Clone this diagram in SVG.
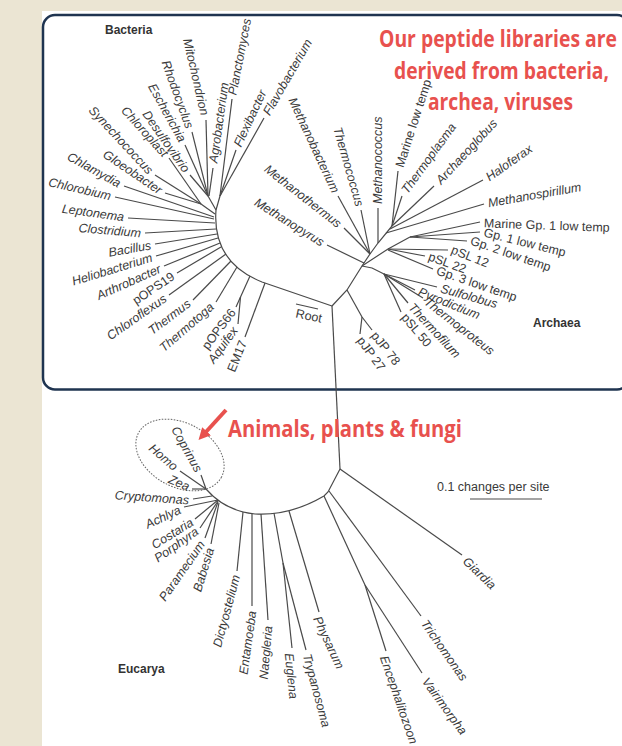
<svg xmlns="http://www.w3.org/2000/svg" width="622" height="746" viewBox="0 0 622 746">
<defs>
<style>
.t{font-family:"Liberation Sans",Arial,sans-serif;font-size:12.5px;fill:#3a3a3a}
.i{font-style:italic}
.e{text-anchor:end}
.b{font-family:"Liberation Sans",Arial,sans-serif;font-size:12px;font-weight:bold;fill:#333}
.r{font-family:"Liberation Sans Narrow","Open Sans",sans-serif;font-size:23px;font-weight:bold;fill:#e8514e}
.ln line,.ln path{stroke:#4a4a4a;stroke-width:1.2;fill:none}
</style>
<marker id="ah" viewBox="0 0 10 10" refX="2" refY="5" markerWidth="3" markerHeight="3" orient="auto">
<path d="M0,0 L10,5 L0,10 Z" fill="#e8514e"/>
</marker>
</defs>
<rect x="0" y="0" width="622" height="746" fill="#ebe5d3"/>
<rect x="42" y="11" width="580" height="735" fill="#fff"/>
<rect id="panel" x="43" y="15" width="586" height="374.5" rx="12" fill="none" stroke="#1f3450" stroke-width="2.5"/>

<g id="connectors" class="ln">
<!-- bacteria -->
<path d="M216,210 Q212,262 262,282 L332,306"/>
<line x1="206" y1="120" x2="208" y2="196"/><line x1="192" y1="132" x2="208" y2="196"/><line x1="185" y1="145" x2="208" y2="196"/><line x1="190" y1="175" x2="208" y2="196"/><line x1="213" y1="168" x2="209" y2="196"/><line x1="208" y1="196" x2="216" y2="210"/>
<line x1="232" y1="99" x2="220" y2="196"/><line x1="236" y1="150" x2="220" y2="196"/><line x1="264" y1="118" x2="220" y2="196"/><line x1="220" y1="196" x2="216" y2="210"/>
<line x1="169" y1="158" x2="201" y2="204"/><line x1="155" y1="175" x2="201" y2="204"/><line x1="165" y1="193" x2="201" y2="204"/><line x1="201" y1="204" x2="215" y2="214"/>
<line x1="124" y1="186" x2="214" y2="217"/><line x1="115" y1="197" x2="214" y2="219"/><line x1="128" y1="218" x2="215" y2="223"/><line x1="145" y1="233" x2="216" y2="229"/><line x1="155" y1="244" x2="217" y2="234"/><line x1="156" y1="256" x2="218" y2="238"/><line x1="164" y1="266" x2="220" y2="243"/><line x1="177" y1="273" x2="221" y2="247"/><line x1="169" y1="295" x2="226" y2="254"/><line x1="193" y1="300" x2="231" y2="261"/><line x1="216" y1="302" x2="237" y2="267"/><line x1="236" y1="307" x2="250" y2="276"/><line x1="238" y1="324" x2="240.5" y2="297"/><line x1="245" y1="337" x2="265" y2="283"/>
<line x1="296" y1="304" x2="318" y2="309"/>
<!-- archaea -->
<polyline points="332,306 347,290 362,266 370,254 378,243 392,226" fill="none" stroke="#4a4a4a" stroke-width="1.2"/>
<line x1="347" y1="290" x2="362" y2="317"/><line x1="372" y1="330" x2="362" y2="317"/><line x1="360" y1="334" x2="362" y2="317"/>
<line x1="327" y1="245" x2="364" y2="263"/><line x1="344" y1="228" x2="370" y2="254"/><line x1="338" y1="196" x2="370" y2="254"/><line x1="361" y1="210" x2="370" y2="254"/><line x1="378" y1="208" x2="378" y2="243"/>
<line x1="398" y1="171" x2="392" y2="226"/><line x1="402" y1="196" x2="392" y2="226"/><line x1="434" y1="186" x2="392" y2="226"/><line x1="483" y1="180" x2="390" y2="229"/><line x1="484" y1="204" x2="386" y2="233"/>
<polyline points="362,266 388,249 410,237" fill="none" stroke="#4a4a4a" stroke-width="1.2"/>
<line x1="480" y1="222" x2="410" y2="237"/><line x1="480" y1="232" x2="410" y2="237"/><line x1="467" y1="241" x2="410" y2="237"/>
<line x1="448" y1="250" x2="388" y2="249"/><line x1="425" y1="256" x2="388" y2="249"/><line x1="433" y1="269" x2="388" y2="250"/>
<polyline points="362,266 372,268 384,274" fill="none" stroke="#4a4a4a" stroke-width="1.2"/>
<line x1="437" y1="287" x2="384" y2="274"/><line x1="415" y1="290" x2="384" y2="274"/><line x1="423" y1="298" x2="384" y2="274"/><line x1="408" y1="303" x2="384" y2="274"/><line x1="401" y1="312" x2="384" y2="274"/>
<!-- eucarya -->
<line x1="332" y1="306" x2="340" y2="469"/>
<line x1="340" y1="469" x2="462" y2="555"/>
<path d="M340,469 L328,492 L324,496 Q290,516 255,514 Q225,511 206,489"/>
<line x1="329" y1="491" x2="421" y2="616"/>
<line x1="324" y1="496" x2="365" y2="585"/><line x1="386" y1="651" x2="365" y2="585"/><line x1="422" y1="673" x2="365" y2="585"/>
<line x1="319" y1="612" x2="289" y2="511"/>
<line x1="274" y1="513" x2="283" y2="563"/><line x1="292" y1="648" x2="283" y2="563"/><line x1="306" y1="650" x2="283" y2="563"/>
<line x1="268" y1="620" x2="261" y2="514"/><line x1="252" y1="606" x2="252" y2="514"/><line x1="237" y1="571" x2="243" y2="512"/>
<line x1="201" y1="475" x2="206" y2="489"/><line x1="180" y1="471" x2="206" y2="489"/><line x1="192" y1="489" x2="206" y2="489"/><line x1="193" y1="499" x2="212" y2="496"/>
<line x1="184" y1="507" x2="218" y2="500"/><line x1="195" y1="519" x2="218" y2="500"/><line x1="200" y1="528" x2="218" y2="501"/><line x1="205" y1="538" x2="218" y2="502"/><line x1="211" y1="544" x2="219" y2="503"/>
<line x1="470" y1="499" x2="542" y2="499"/>
</g>

<g id="bacteria">
<text class="b" x="105" y="34">Bacteria</text>
<g class="t i">
<text class="e" dy="0.35em" transform="translate(205,115) rotate(77)">Mitochondrion</text>
<text class="e" dy="0.35em" transform="translate(190,128) rotate(70)">Rhodocyclus</text>
<text class="e" dy="0.35em" transform="translate(183,141) rotate(61)">Escherichia</text>
<text class="e" dy="0.35em" transform="translate(187,171) rotate(55)">Desulfovibrio</text>
<text dy="0.35em" transform="translate(213,163) rotate(-82)">Agrobacterium</text>
<text dy="0.35em" transform="translate(232,95) rotate(-79)">Planctomyces</text>
<text dy="0.35em" transform="translate(237,146) rotate(-65)">Flexibacter</text>
<text dy="0.35em" transform="translate(266,114) rotate(-60)">Flavobacterium</text>
<text class="e" dy="0.35em" transform="translate(166,155) rotate(48)">Chloroplast</text>
<text class="e" dy="0.35em" transform="translate(151,172) rotate(47)">Synechococcus</text>
<text class="e" dy="0.35em" transform="translate(161,191) rotate(34)">Gloeobacter</text>
<text class="e" dy="0.35em" transform="translate(120,184) rotate(29)">Chlamydia</text>
<text class="e" dy="0.35em" transform="translate(111,196) rotate(13)">Chlorobium</text>
<text class="e" dy="0.35em" transform="translate(124,217) rotate(8)">Leptonema</text>
<text class="e" dy="0.35em" transform="translate(141,233) rotate(5)">Clostridium</text>
<text class="e" dy="0.35em" transform="translate(151,245) rotate(-10)">Bacillus</text>
<text class="e" dy="0.35em" transform="translate(152,257) rotate(-17)">Heliobacterium</text>
<text class="e" dy="0.35em" transform="translate(160,268) rotate(-24)">Arthrobacter</text>
<text class="e" dy="0.35em" transform="translate(165,297) rotate(-35)">Chloroflexus</text>
<text class="e" dy="0.35em" transform="translate(189,302) rotate(-37)">Thermus</text>
<text class="e" dy="0.35em" transform="translate(212,305) rotate(-41)">Thermotoga</text>
<text class="e" dy="0.35em" transform="translate(235,328) rotate(-54)">Aquifex</text>
</g>
<g class="t">
<text class="e" dy="0.35em" transform="translate(173,275) rotate(-34)">pOPS19</text>
<text class="e" dy="0.35em" transform="translate(233,310) rotate(-53)">pOPS66</text>
<text class="e" dy="0.35em" transform="translate(243,341) rotate(-68)">EM17</text>
<text dy="0.35em" transform="translate(296,313) rotate(12)">Root</text>
</g>
</g>

<g id="archaea">
<text class="b" x="533" y="327">Archaea</text>
<g class="t i">
<text class="e" dy="0.35em" transform="translate(323,243) rotate(32)">Methanopyrus</text>
<text class="e" dy="0.35em" transform="translate(340,225) rotate(38)">Methanothermus</text>
<text class="e" dy="0.35em" transform="translate(336,192) rotate(65)">Methanobacterium</text>
<text class="e" dy="0.35em" transform="translate(360,206) rotate(74)">Thermococcus</text>
<text dy="0.35em" transform="translate(378,204) rotate(-90)">Methanococcus</text>
<text dy="0.35em" transform="translate(404,192) rotate(-54)">Thermoplasma</text>
<text dy="0.35em" transform="translate(438,182) rotate(-47)">Archaeoglobus</text>
<text dy="0.35em" transform="translate(487,178) rotate(-35)">Haloferax</text>
<text dy="0.35em" transform="translate(488,203) rotate(-10)">Methanospirillum</text>
<text dy="0.35em" transform="translate(441,288) rotate(16)">Sulfolobus</text>
<text dy="0.35em" transform="translate(419,291) rotate(22)">Pyrodictium</text>
<text dy="0.35em" transform="translate(426,300) rotate(38)">Thermoproteus</text>
<text dy="0.35em" transform="translate(411,305) rotate(47)">Thermofilum</text>
</g>
<g class="t">
<text dy="0.35em" transform="translate(399,167) rotate(-72)">Marine low temp</text>
<text dy="0.35em" transform="translate(484,223) rotate(2)">Marine Gp. 1 low temp</text>
<text dy="0.35em" transform="translate(484,232) rotate(14)">Gp. 1 low temp</text>
<text dy="0.35em" transform="translate(471,240) rotate(19)">Gp. 2 low temp</text>
<text dy="0.35em" transform="translate(452,249) rotate(22)">pSL 12</text>
<text dy="0.35em" transform="translate(429,256) rotate(20)">pSL 22</text>
<text dy="0.35em" transform="translate(437,270) rotate(19)">Gp. 3 low temp</text>
<text dy="0.35em" transform="translate(404,315) rotate(50)">pSL 50</text>
<text dy="0.35em" transform="translate(374,333) rotate(52)">pJP 78</text>
<text dy="0.35em" transform="translate(360,338) rotate(54)">pJP 27</text>
</g>
</g>

<g id="eucarya">
<text class="b" x="118" y="673">Eucarya</text>
<ellipse cx="180" cy="455" rx="47" ry="32" transform="rotate(28 180 455)" fill="none" stroke="#666" stroke-width="1" stroke-dasharray="1.6 1.4"/>
<g class="t i">
<text class="e" dy="0.35em" transform="translate(199,471) rotate(61)">Coprinus</text>
<text class="e" dy="0.35em" transform="translate(176,468) rotate(41)">Homo</text>
<text class="e" dy="0.35em" transform="translate(189,487) rotate(23)">Zea</text>
<text class="e" dy="0.35em" transform="translate(189,500) rotate(4)">Cryptomonas</text>
<text class="e" dy="0.35em" transform="translate(180,509) rotate(-25)">Achlya</text>
<text class="e" dy="0.35em" transform="translate(192,521) rotate(-32)">Costaria</text>
<text class="e" dy="0.35em" transform="translate(197,530) rotate(-35)">Porphyra</text>
<text class="e" dy="0.35em" transform="translate(202,542) rotate(-55)">Paramecium</text>
<text class="e" dy="0.35em" transform="translate(210,548) rotate(-73)">Babesia</text>
<text class="e" dy="0.35em" transform="translate(236,575) rotate(-75)">Dictyostelium</text>
<text class="e" dy="0.35em" transform="translate(252,611) rotate(-82)">Entamoeba</text>
<text class="e" dy="0.35em" transform="translate(268,626) rotate(-85)">Naegleria</text>
<text dy="0.35em" transform="translate(289,653) rotate(84)">Euglena</text>
<text dy="0.35em" transform="translate(307,654) rotate(75)">Trypanosoma</text>
<text dy="0.35em" transform="translate(317,617) rotate(65)">Physarum</text>
<text dy="0.35em" transform="translate(384,656) rotate(71)">Encephalitozoon</text>
<text dy="0.35em" transform="translate(425,679) rotate(54)">Vairimorpha</text>
<text dy="0.35em" transform="translate(424,621) rotate(55)">Trichomonas</text>
<text dy="0.35em" transform="translate(465,559) rotate(44)">Giardia</text>
</g>
<text class="t" x="437" y="491" font-size="12">0.1 changes per site</text>
</g>

<g id="annotations">
<text class="r" x="379" y="47" textLength="238" lengthAdjust="spacingAndGlyphs">Our peptide libraries are</text>
<text class="r" x="394" y="79" textLength="215" lengthAdjust="spacingAndGlyphs">derived from bacteria,</text>
<text class="r" x="428" y="110" textLength="145" lengthAdjust="spacingAndGlyphs">archea, viruses</text>
<text class="r" x="228" y="437" textLength="234" lengthAdjust="spacingAndGlyphs">Animals, plants &amp; fungi</text>
<line x1="226" y1="410" x2="205" y2="433" stroke="#e8514e" stroke-width="4" marker-end="url(#ah)"/>
</g>
</svg>
